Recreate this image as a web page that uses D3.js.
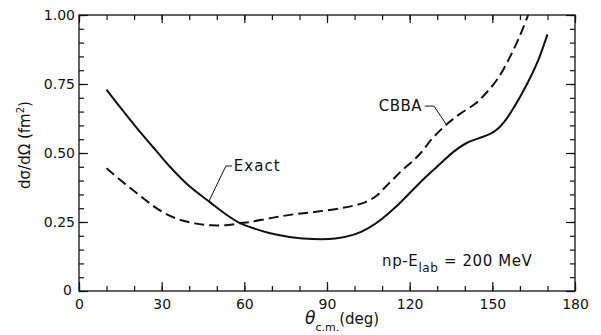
<!DOCTYPE html>
<html>
<head>
<meta charset="utf-8">
<script src="https://cdn.jsdelivr.net/npm/d3@7"></script>
<style>
  body { margin: 0; background: #fff; }
  text { font-family: "DejaVu Sans", sans-serif; fill: #111; }
</style>
</head>
<body>
<div id="chart-area"></div>
<script>
// angles (deg) and cross sections (fm^2)
var exactAngles = [10, 15, 21, 27, 33, 40, 47.5, 53, 58.4, 64, 69, 77, 85, 93, 100, 105, 110, 115, 121, 126, 131, 136, 141, 145, 149, 152, 155, 158, 161, 164, 167, 170];
var exactValues = [0.73, 0.665, 0.59, 0.52, 0.45, 0.38, 0.322, 0.28, 0.246, 0.225, 0.21, 0.195, 0.188, 0.19, 0.205, 0.228, 0.262, 0.305, 0.365, 0.415, 0.46, 0.505, 0.538, 0.553, 0.568, 0.588, 0.622, 0.668, 0.72, 0.778, 0.845, 0.93];

var cbbaAngles = [10, 15, 20, 25, 30, 36, 42, 48, 54, 58, 62, 70, 78, 86, 95, 100, 104, 108, 111, 114, 117, 121, 124, 128, 133, 138, 144, 148, 152, 156, 160, 163];
var cbbaValues = [0.445, 0.402, 0.362, 0.323, 0.288, 0.26, 0.245, 0.238, 0.239, 0.245, 0.25, 0.265, 0.278, 0.287, 0.30, 0.31, 0.322, 0.345, 0.375, 0.405, 0.435, 0.47, 0.50, 0.55, 0.60, 0.64, 0.68, 0.72, 0.77, 0.84, 0.925, 1.0];

var xTicks = [0, 30, 60, 90, 120, 150, 180];
var yTicks = [0, 0.25, 0.5, 0.75, 1.0];

// plot box (note: "top" is taken by window.top)
var pLeft = 79, pRight = 575, pTop = 15, pBottom = 291;

var svg = d3.select("#chart-area").append("svg")
            .attr("width", 601)
            .attr("height", 335);

var x = d3.scaleLinear().domain([0, 180]).range([pLeft, pRight]);
var y = d3.scaleLinear().domain([0, 1]).range([pBottom, pTop]);

// minor ticks, pointing inward on all four sides
function minor(g) { g.select(".domain").remove(); g.selectAll("text").remove(); }
svg.append("g").attr("transform", "translate(0," + pBottom + ")")
  .call(d3.axisBottom(x).tickValues(d3.range(0, 181, 10)).tickSize(-5)).call(minor);
svg.append("g").attr("transform", "translate(0," + pTop + ")")
  .call(d3.axisTop(x).tickValues(d3.range(0, 181, 10)).tickSize(-5)).call(minor);
svg.append("g").attr("transform", "translate(" + pLeft + ",0)")
  .call(d3.axisLeft(y).tickValues(d3.range(0, 1.001, 0.05)).tickSize(-5)).call(minor);
svg.append("g").attr("transform", "translate(" + pRight + ",0)")
  .call(d3.axisRight(y).tickValues(d3.range(0, 1.001, 0.05)).tickSize(-5)).call(minor);

// major ticks
var xAxis = svg.append("g").attr("transform", "translate(0," + pBottom + ")")
  .call(d3.axisBottom(x).tickValues(xTicks).tickSize(-9).tickPadding(4).tickFormat(d3.format("d")));
svg.append("g").attr("transform", "translate(0," + pTop + ")")
  .call(d3.axisTop(x).tickValues(xTicks).tickSize(-8)).call(minor);
var yAxis = svg.append("g").attr("transform", "translate(" + pLeft + ",0)")
  .call(d3.axisLeft(y).tickValues(yTicks).tickSize(-9).tickPadding(4)
    .tickFormat(function(d) { return d === 0 ? "0" : d3.format(".2f")(d); }));
svg.append("g").attr("transform", "translate(" + pRight + ",0)")
  .call(d3.axisRight(y).tickValues(yTicks).tickSize(-9)).call(minor);

svg.selectAll(".tick line").attr("stroke", "#111").attr("stroke-width", 1.2);
[xAxis, yAxis].forEach(function(a) {
  a.select(".domain").remove();
  a.selectAll("text").style("font-size", "14px").style("font-family", "DejaVu Sans").attr("fill", "#111");
});
xAxis.selectAll("text").attr("dy", "1em");
yAxis.selectAll(".tick").filter(function(d) { return d === 0; }).select("text")
  .attr("x", -7).attr("dy", "0.25em");

// frame
svg.append("rect")
  .attr("x", pLeft).attr("y", pTop)
  .attr("width", pRight - pLeft).attr("height", pBottom - pTop)
  .attr("fill", "none").attr("stroke", "#111").attr("stroke-width", 1.3);

// curves
var line = d3.line()
  .x(function(d) { return x(d[0]); })
  .y(function(d) { return y(d[1]); })
  .curve(d3.curveCatmullRom);

svg.append("path")
  .datum(d3.zip(exactAngles, exactValues))
  .attr("d", line)
  .attr("fill", "none").attr("stroke", "#111").attr("stroke-width", 2);

svg.append("path")
  .datum(d3.zip(cbbaAngles, cbbaValues))
  .attr("d", line)
  .attr("fill", "none").attr("stroke", "#111").attr("stroke-width", 2)
  .attr("stroke-dasharray", "10,5");

// labels with leader lines
var leader = d3.line()
  .x(function(d) { return x(d[0]); })
  .y(function(d) { return y(d[1]); });

svg.append("path")
  .attr("d", leader([[47.2, 0.326], [53.3, 0.453], [55.5, 0.453]]))
  .attr("fill", "none").attr("stroke", "#111").attr("stroke-width", 1);
svg.append("text")
  .attr("x", x(56.2)).attr("y", y(0.435))
  .style("font-size", "15px").style("letter-spacing", "1px")
  .text("Exact");

svg.append("path")
  .attr("d", leader([[133.2, 0.605], [128.8, 0.67], [125.5, 0.67]]))
  .attr("fill", "none").attr("stroke", "#111").attr("stroke-width", 1);
svg.append("text")
  .attr("x", x(124.5)).attr("y", y(0.652))
  .attr("text-anchor", "end")
  .style("font-size", "15px").style("letter-spacing", "0.5px")
  .text("CBBA");

var note = svg.append("text")
  .attr("x", x(110)).attr("y", y(0.09))
  .style("font-size", "15px").style("letter-spacing", "0.6px");
note.append("tspan").text("np-E");
note.append("tspan").attr("dy", 6).style("font-size", "12px").text("lab");
note.append("tspan").attr("dy", -6).text(" = 200 MeV");

// axis titles
var xt = svg.append("text")
  .attr("x", 305).attr("y", 324)
  .style("font-size", "15px");
xt.append("tspan").style("font-style", "italic").style("font-size", "17px").text("θ");
xt.append("tspan").attr("dy", 7).style("font-size", "11px").text("c.m.");
xt.append("tspan").attr("dy", -7).text("(deg)");

var yt = svg.append("text")
  .attr("transform", "translate(30,145) rotate(-90)")
  .attr("text-anchor", "middle")
  .style("font-size", "15px");
yt.append("tspan").text("dσ/dΩ (fm");
yt.append("tspan").attr("dy", -6).style("font-size", "10px").text("2");
yt.append("tspan").attr("dy", 6).text(")");
</script>
</body>
</html>
